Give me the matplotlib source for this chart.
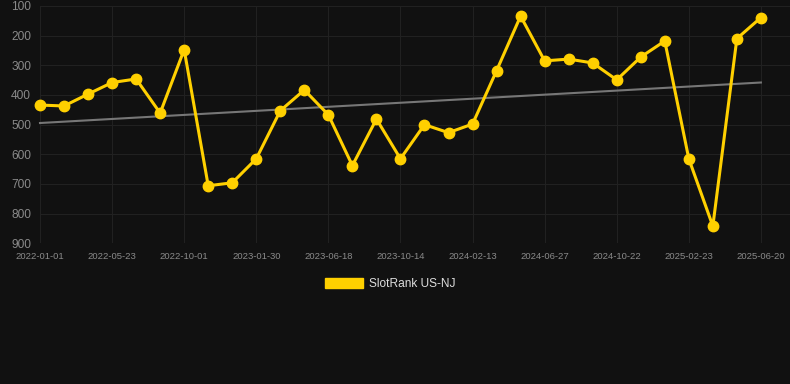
import matplotlib
matplotlib.use("Agg")
import matplotlib.pyplot as plt
from matplotlib.patches import Patch
import numpy as np

# rank values (lower is better, axis inverted)
ranks = [434, 437, 397, 358, 346, 461, 247, 706, 696, 615,
         453, 383, 467, 638, 481, 615, 500, 527, 498, 318,
         134, 285, 279, 292, 349, 272, 218, 615, 842, 210, 139]
tick_labels = ["2022-01-01", "2022-05-23", "2022-10-01", "2023-01-30",
               "2023-06-18", "2023-10-14", "2024-02-13", "2024-06-27",
               "2024-10-22", "2025-02-23", "2025-06-20"]
y_ticks = [100, 200, 300, 400, 500, 600, 700, 800, 900]
series_name = "SlotRank US-NJ"

bg = "#111111"
yellow = "#FFD000"

plt.rcParams["font.family"] = ["Liberation Sans", "DejaVu Sans"]

x = np.arange(len(ranks))
coef = np.polyfit(x, ranks, 1)
trend = np.polyval(coef, x)

fig = plt.figure(figsize=(7.9, 3.84), dpi=100, facecolor=bg)
ax = fig.add_axes([40 / 790, 1 - 243.3 / 384, 750 / 790, (243.3 - 6) / 384])
ax.set_facecolor(bg)

ax.plot(x, trend, color="#777777", lw=1.5, zorder=2, clip_on=False)
ax.plot(x, ranks, color=yellow, lw=2.2, marker="o", ms=7.5, zorder=3, clip_on=False)

ax.set_xlim(0, 750 / 24.03)
ax.set_ylim(900, 100)
ax.set_yticks(y_ticks)
ax.set_xticks(x[::3])
ax.set_xticklabels(tick_labels)
ax.grid(True, color="#222222", lw=0.7)
ax.set_axisbelow(True)
for s in ax.spines.values():
    s.set_visible(False)
ax.tick_params(length=0, colors="#8a8a8a")
ax.tick_params(axis="x", pad=6, labelsize=6.8)
ax.tick_params(axis="y", pad=6.5, labelsize=8.6)

handles = [Patch(facecolor=yellow, edgecolor=yellow, label=series_name)]
leg = fig.legend(handles=handles, loc="center", bbox_to_anchor=(0.494, 1 - 284 / 384),
                 frameon=False, fontsize=8.6, handlelength=3.2, handleheight=0.95,
                 handletextpad=0.5)
for t in leg.get_texts():
    t.set_color("#dddddd")

fig.savefig("out.png", dpi=100, facecolor=bg)
